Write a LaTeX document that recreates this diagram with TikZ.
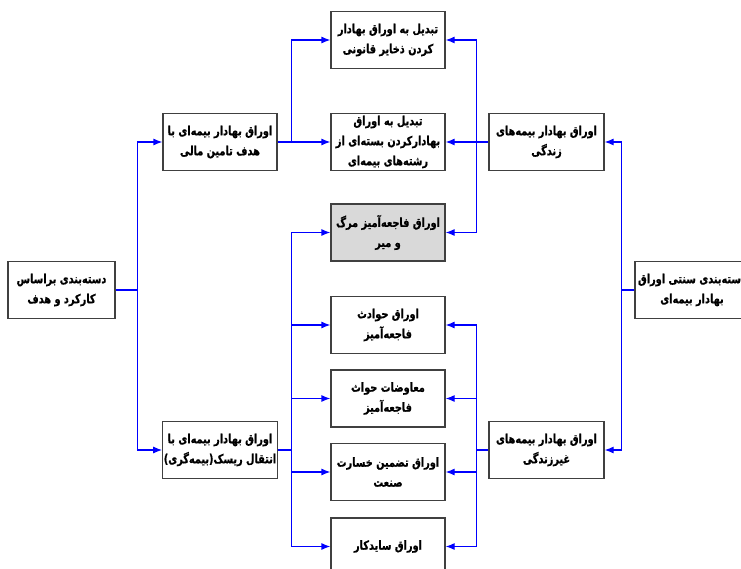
\documentclass[tikz,border=0pt]{standalone}
\usepackage{fontspec}
\TeXXeTstate=1
\newfontfamily\farsi[Script=Arabic,FakeStretch=0.78,FakeBold=0.8]{DejaVu Sans}
\newcommand{\fa}[1]{{\farsi\bfseries\beginR #1\endR}}
\usetikzlibrary{arrows.meta}

\begin{document}
\begin{tikzpicture}[x=1pt,y=-1pt,
  box/.style={draw=black!75,line width=1.2pt,fill=white,minimum width=114pt,minimum height=57pt,inner sep=1pt,align=center,font=\fontsize{12.5}{20}\selectfont},
  link/.style={draw=blue,line width=1.2pt},
  arr/.style={link,-{Latex[length=9pt,width=7pt]}}]
\clip (0,0) rectangle (741,569);
\fill[white] (0,0) rectangle (741,569);
%画布(clip),与参考图同大小
\node[box,minimum width=107pt] (kar) at (61.5,290) {\fa{دسته‌بندی براساس}\\\fa{کارکرد و هدف}};
\node[box] (tamin) at (220,142) {\fa{اوراق بهادار بیمه‌ای با}\\\fa{هدف تامین مالی}};
\node[box] (risk) at (220,450) {\fa{اوراق بهادار بیمه‌ای با}\\\fa{انتقال ریسک(بیمه‌گری)}};
%左侧两列方框(box)
\node[box] (m1) at (388,40) {\fa{تبدیل به اوراق بهادار}\\\fa{کردن ذخایر قانونی}};
\node[box] (m2) at (388,142) {\fa{تبدیل به اوراق}\\\fa{بهادارکردن بسته‌ای از}\\\fa{رشته‌های بیمه‌ای}};
\node[box,fill=black!15] (m3) at (388,232.5) {\fa{اوراق فاجعه‌آمیز مرگ}\\\fa{و میر}};
\node[box] (m4) at (388,325) {\fa{اوراق حوادث}\\\fa{فاجعه‌آمیز}};
\node[box] (m5) at (388,398.5) {\fa{معاوضات حواث}\\\fa{فاجعه‌آمیز}};
\node[box] (m6) at (388,472) {\fa{اوراق تضمین خسارت}\\\fa{صنعت}};
\node[box] (m7) at (388,546.5) {\fa{اوراق سایدکار}};
%中间一列方框(m1--m7),m3为灰色(fill=black!15)
\node[box,minimum width=115pt] (zendegi) at (546.5,142) {\fa{اوراق بهادار بیمه‌های}\\\fa{زندگی}};
\node[box,minimum width=115pt] (gheir) at (546.5,450) {\fa{اوراق بهادار بیمه‌های}\\\fa{غیرزندگی}};
\node[box] (sonati) at (692,290) {\fa{دسته‌بندی سنتی اوراق}\\\fa{بهادار بیمه‌ای}};
%右侧两列方框(box)
\draw[link] (kar.east) -- ++(22,0) coordinate (j1);
\foreach \n in {tamin,risk} {\draw[arr] (j1) |- (\n.west);}
\draw[link] (tamin.east) -- ++(14,0) coordinate (j2);
\foreach \n in {m1,m2} {\draw[arr] (j2) |- (\n.west);}
\draw[link] (risk.east) -- ++(14,0) coordinate (j3);
\foreach \n in {m3,m4,m5,m6,m7} {\draw[arr] (j3) |- (\n.west);}
%左侧连线(link),箭头(arr)指向右边方框
\draw[link] (zendegi.west) -- ++(-12,0) coordinate (j4);
\foreach \n in {m1,m2,m3} {\draw[arr] (j4) |- (\n.east);}
\draw[link] (gheir.west) -- ++(-12,0) coordinate (j5);
\foreach \n in {m4,m5,m6,m7} {\draw[arr] (j5) |- (\n.east);}
\draw[link] (sonati.west) -- ++(-13,0) coordinate (j6);
\foreach \n in {zendegi,gheir} {\draw[arr] (j6) |- (\n.east);}
%右侧连线(link),箭头(arr)指向左边方框
\end{tikzpicture}
\end{document}
